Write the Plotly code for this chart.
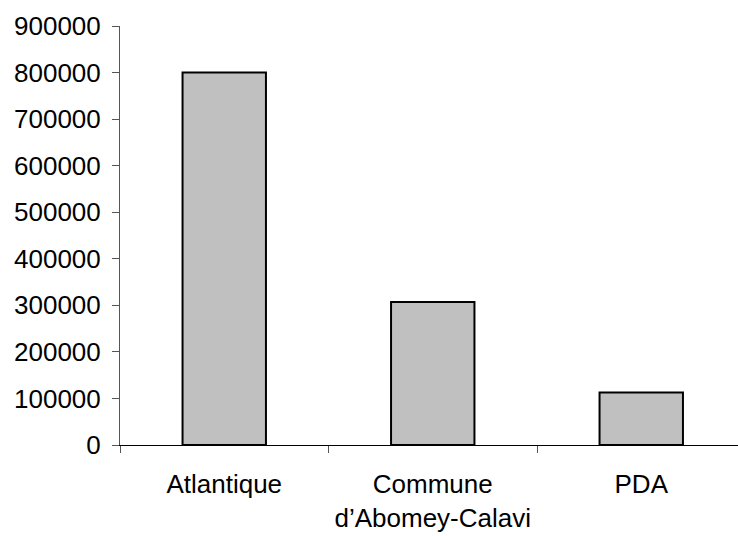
import plotly.graph_objects as go

categories = ["Atlantique", "Commune d’Abomey-Calavi", "PDA"]
tick_labels = ["Atlantique", "Commune<br>d’Abomey-Calavi", "PDA"]
values = [800000, 307000, 113000]
y_ticks = [0, 100000, 200000, 300000, 400000, 500000, 600000, 700000, 800000, 900000]

FONT = "Liberation Sans, Arial, sans-serif"
FSIZE = 26

fig = go.Figure(
    go.Bar(
        x=categories,
        y=values,
        marker=dict(color="#C0C0C0", line=dict(color="#000000", width=2)),
    )
)

fig.update_layout(
    width=738,
    height=536,
    margin=dict(l=120, r=0, t=26, b=91),
    paper_bgcolor="white",
    plot_bgcolor="white",
    bargap=0.6,
    showlegend=False,
    font=dict(family=FONT, size=FSIZE, color="black"),
)

fig.update_xaxes(
    type="category",
    range=[-0.5, 2.464],
    tickvals=categories,
    ticktext=tick_labels,
    tickson="boundaries",
    ticks="outside",
    ticklen=7,
    tickcolor="#555555",
    showline=True,
    linecolor="black",
    linewidth=1,
    showgrid=False,
    zeroline=False,
    tickfont=dict(family=FONT, size=FSIZE, color="black"),
    ticklabelstandoff=16,
)

fig.update_yaxes(
    range=[0, 900000],
    tickvals=y_ticks,
    ticktext=[str(v) for v in y_ticks],
    ticks="outside",
    ticklen=7,
    tickcolor="#555555",
    showline=True,
    linecolor="#555555",
    linewidth=1,
    showgrid=False,
    zeroline=False,
    tickfont=dict(family=FONT, size=FSIZE, color="black"),
    ticklabelstandoff=6,
)

fig.write_html("out.html")
